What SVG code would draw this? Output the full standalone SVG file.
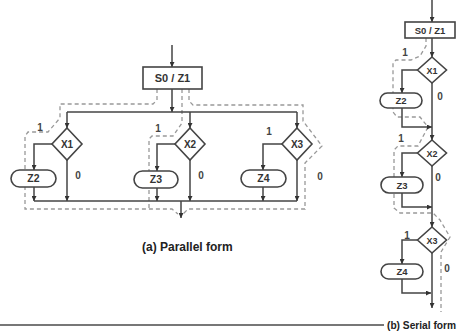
<svg xmlns="http://www.w3.org/2000/svg" width="458" height="331" viewBox="0 0 458 331">
<style>
.ln{fill:none;stroke:#444;stroke-width:1.5}
.ds{fill:none;stroke:#999;stroke-width:1.3;stroke-dasharray:4 3}
.bx{fill:#fff;stroke:#444;stroke-width:1.6}
.t{font-family:"Liberation Sans",Arial,sans-serif;font-weight:bold;fill:#333;text-anchor:middle}
.lb{font-family:"Liberation Sans",Arial,sans-serif;font-weight:bold;fill:#444;font-size:10px;text-anchor:middle}
.cap{font-family:"Liberation Sans",Arial,sans-serif;font-weight:bold;fill:#222}
</style>
<defs>
<marker id="ar" viewBox="0 0 6 6" refX="6" refY="3" markerWidth="5" markerHeight="5" markerUnits="userSpaceOnUse" orient="auto">
<path d="M0,0 L6,3 L0,6 Z" fill="#333"/>
</marker>
</defs>

<!-- dashed path traces -->
<g id="paths">
<path class="ds" d="M157,89 V100 L153,104 H60 V118 L48,132 H28 L25,136 V209 H172 L178,214"/>
<path class="ds" d="M182,89 V123 L173,136 H152 L149,139 V209"/>
<path class="ds" d="M189,89 V101 L193,105 H303 V121 L322,146 L305,163 V209 H188 L183,214"/>
<path class="ds" d="M426,38 V46 L420,56 L411,60 H396 L393,63 V112 L397,117 H420 L428,127 L418,146 H398 L394,150 V208 L400,213 H433 L440,220 L450,237 L441,252 V312"/>
</g>

<!-- connectors -->
<g id="connectors">
<path class="ln" d="M172,45 V67" marker-end="url(#ar)"/>
<path class="ln" d="M172,89 V112" marker-end="url(#ar)"/>
<path class="ln" d="M67,112 H297"/>
<path class="ln" d="M67,112 V128" marker-end="url(#ar)"/>
<path class="ln" d="M190,112 V128" marker-end="url(#ar)"/>
<path class="ln" d="M297,112 V128" marker-end="url(#ar)"/>
<path class="ln" d="M52,144 H34 V170" marker-end="url(#ar)"/>
<path class="ln" d="M175,144 H157 V171" marker-end="url(#ar)"/>
<path class="ln" d="M282,144 H263 V170" marker-end="url(#ar)"/>
<path class="ln" d="M34,187 V201" marker-end="url(#ar)"/>
<path class="ln" d="M157,188 V201" marker-end="url(#ar)"/>
<path class="ln" d="M263,187 V201" marker-end="url(#ar)"/>
<path class="ln" d="M67,160 V201" marker-end="url(#ar)"/>
<path class="ln" d="M190,160 V201" marker-end="url(#ar)"/>
<path class="ln" d="M297,160 V201" marker-end="url(#ar)"/>
<path class="ln" d="M34,201 H297"/>
<path class="ln" d="M181,201 V218" marker-end="url(#ar)"/>

<path class="ln" d="M432,0 V22" marker-end="url(#ar)"/>
<path class="ln" d="M432,38 V57" marker-end="url(#ar)"/>
<path class="ln" d="M417.5,70 H402 V93" marker-end="url(#ar)"/>
<path class="ln" d="M402,108 V127 H432" marker-end="url(#ar)"/>
<path class="ln" d="M432,83 V140" marker-end="url(#ar)"/>
<path class="ln" d="M417.5,153 H402 V177" marker-end="url(#ar)"/>
<path class="ln" d="M402,193 V207 H432" marker-end="url(#ar)"/>
<path class="ln" d="M432,166 V227" marker-end="url(#ar)"/>
<path class="ln" d="M417.5,240 H402 V264" marker-end="url(#ar)"/>
<path class="ln" d="M402,279 V293 H431" marker-end="url(#ar)"/>
<path class="ln" d="M432,253 V308" marker-end="url(#ar)"/>
</g>

<!-- parallel form nodes -->
<g id="p-s0z1"><rect class="bx" x="143" y="67" width="59" height="22"/><text class="t" x="172.5" y="82" font-size="11">S0 / Z1</text></g>
<g id="p-x1"><polygon class="bx" points="67,128 82,144 67,160 52,144"/><text class="t" x="67" y="147.5" font-size="10">X1</text></g>
<g id="p-x2"><polygon class="bx" points="190,128 205,144 190,160 175,144"/><text class="t" x="190" y="147.5" font-size="10">X2</text></g>
<g id="p-x3"><polygon class="bx" points="297,128 312,144 297,160 282,144"/><text class="t" x="297" y="147.5" font-size="10">X3</text></g>
<g id="p-z2"><rect class="bx" x="11" y="170" width="45" height="17" rx="8.5"/><text class="t" x="33.5" y="182" font-size="10.5">Z2</text></g>
<g id="p-z3"><rect class="bx" x="134" y="171" width="44" height="17" rx="8.5"/><text class="t" x="156" y="183" font-size="10.5">Z3</text></g>
<g id="p-z4"><rect class="bx" x="241" y="170" width="45" height="17" rx="8.5"/><text class="t" x="263.5" y="182" font-size="10.5">Z4</text></g>

<!-- serial form nodes -->
<g id="s-s0z1"><rect class="bx" x="405" y="22" width="50" height="16"/><text class="t" x="430" y="33.5" font-size="9.5">S0 / Z1</text></g>
<g id="s-x1"><polygon class="bx" points="432,57 446.5,70 432,83 417.5,70"/><text class="t" x="432" y="73.5" font-size="9">X1</text></g>
<g id="s-x2"><polygon class="bx" points="432,140 446.5,153 432,166 417.5,153"/><text class="t" x="432" y="156.5" font-size="9">X2</text></g>
<g id="s-x3"><polygon class="bx" points="432,227 446.5,240 432,253 417.5,240"/><text class="t" x="432" y="243.5" font-size="9">X3</text></g>
<g id="s-z2"><rect class="bx" x="380" y="93" width="42" height="15" rx="7.5"/><text class="t" x="401" y="104" font-size="9.5">Z2</text></g>
<g id="s-z3"><rect class="bx" x="381" y="177" width="42" height="16" rx="8"/><text class="t" x="402" y="188.5" font-size="9.5">Z3</text></g>
<g id="s-z4"><rect class="bx" x="381" y="264" width="42" height="15" rx="7.5"/><text class="t" x="402" y="275" font-size="9.5">Z4</text></g>

<!-- branch labels -->
<g id="labels">
<text class="lb" x="40" y="131">1</text>
<text class="lb" x="78" y="179">0</text>
<text class="lb" x="158" y="132">1</text>
<text class="lb" x="201" y="179">0</text>
<text class="lb" x="269" y="135">1</text>
<text class="lb" x="320" y="180">0</text>
<text class="lb" x="405" y="56">1</text>
<text class="lb" x="440" y="100">0</text>
<text class="lb" x="401" y="142">1</text>
<text class="lb" x="438" y="181">0</text>
<text class="lb" x="407" y="239">1</text>
<text class="lb" x="447" y="272">0</text>
</g>

<text class="cap" x="142" y="251" font-size="12">(a) Parallel form</text>
<text class="cap" x="387" y="329" font-size="10.2">(b) Serial form</text>
<line x1="0" y1="325" x2="384" y2="325" stroke="#777" stroke-width="2"/>
</svg>
